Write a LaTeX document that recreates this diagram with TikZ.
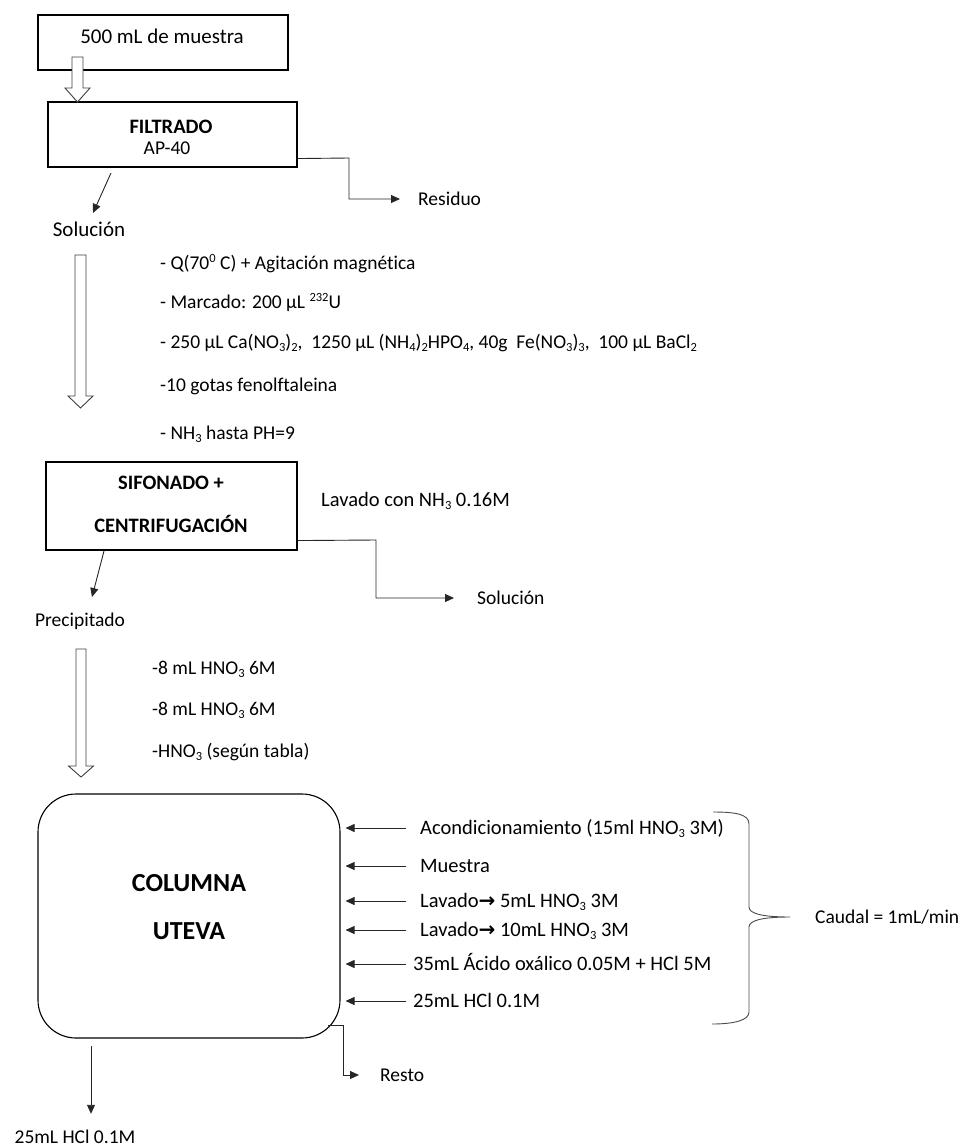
\documentclass[tikz,border=0pt]{standalone}
\usepackage{fontspec}
\setmainfont{Carlito}[Ligatures=NoCommon]
\newfontfamily\djv{DejaVu Sans}
\usetikzlibrary{arrows.meta,calc}
\newcommand\fs{\fontsize{19.5}{23}\selectfont}
\newcommand\fl{\fontsize{21}{25}\selectfont}
\newcommand\fm{\fontsize{20.5}{24}\selectfont}
\newcommand\fb{\fontsize{20.5}{24}\selectfont\bfseries}
\newcommand\fc{\fontsize{26}{30}\selectfont\bfseries}
\newcommand\sub[1]{\raisebox{-3pt}{\fontsize{12.5}{13}\selectfont #1}}
\newcommand\sups[1]{\raisebox{6.5pt}{\fontsize{12.5}{13}\selectfont #1}}
\newcommand\rarr{{\djv\bfseries\fontsize{20}{22}\selectfont →}}
\newcommand\hollow[6]{%
  \draw[hol] (#1-#6,#2) -- (#1+#6,#2) -- (#1+#6,#3-#4) -- (#1+#5,#3-#4) -- (#1,#3) -- (#1-#5,#3-#4) -- (#1-#6,#3-#4) -- cycle;}
\begin{document}
\begin{tikzpicture}[x=1pt,y=-1pt,
  every node/.style={font=\fs, inner sep=0pt, text height=14pt, text depth=2pt},
  box/.style={draw, line width=1.1pt, minimum width=#1},
  hol/.style={draw=black!75, line width=0.9pt, fill=white},
  arr/.style={draw=black!85, line width=0.9pt, -{Triangle[length=9pt,width=8pt]}},
  txt/.style={anchor=west},
  bt/.style={font=\fb},
  ct/.style={font=\fc, text height=18pt, text depth=1pt},
  brace/.style={draw=black!70, line width=0.9pt}
]
\useasboundingbox (0,0) rectangle (973,1146);

% boxes
\node[box=250, minimum height=55] (b1) at (163,42.5) {};
\node[font=\fl] (t1) at (162,37) {500 mL de muestra};

\node[box=249, minimum height=65] (b2) at (172.5,134.5) {};
\node[bt] (t2a) at (171,127) {FILTRADO};
\node (t2b) at (167,148) {AP-40};

\node[box=251, minimum height=88] (b3) at (171.5,506) {};
\node[bt] (t3a) at (171,483) {SIFONADO +};
\node[bt] (t3b) at (171,526) {CENTRIFUGACIÓN};

\node[draw, line width=1.1pt, rounded corners=38, minimum width=302, minimum height=244] (col) at (189,916) {};
\node[ct] (c1) at (189,883) {COLUMNA};
\node[ct] (c2) at (189,931) {UTEVA};

% labels
\node[font=\fl] (sol1) at (89,230) {Solución};
\node[txt] (res) at (418,199) {Residuo};
\node (prec) at (80,620) {Precipitado};
\node[txt, font=\fm] (lav) at (321,500) {Lavado con NH\sub{3} 0.16M};
\node[txt] (sol2) at (477,598) {Solución};
\node[txt] (resto) at (380,1075) {Resto};
\node (out) at (75,1137) {25mL HCl 0.1M};
\node[txt] (caud) at (815,917) {Caudal = 1mL/min};

% reagent list
\node[txt] (r1) at (160,263) {- Q(70\sups{0} C) + Agitación magnética};
\node[txt] (r2) at (160,302) {- Marcado: 200 µL \sups{232}U};
\node[txt] (r3) at (160,342) {- 250 µL Ca(NO\sub{3})\sub{2},\ \ 1250 µL (NH\sub{4})\sub{2}HPO\sub{4}, 40g\ \ Fe(NO\sub{3})\sub{3},\ \ 100 µL BaCl\sub{2}};
\node[txt] (r4) at (160,385) {-10 gotas fenolftaleina};
\node[txt] (r5) at (160,433) {- NH\sub{3} hasta PH=9};

\node[txt] (h1) at (152,668) {-8 mL HNO\sub{3} 6M};
\node[txt] (h2) at (152,709) {-8 mL HNO\sub{3} 6M};
\node[txt] (h3) at (152,751) {-HNO\sub{3} (según tabla)};

% column inputs
\begin{scope}[every node/.append style={font=\fm}]
\node[txt] (i1) at (420,828) {Acondicionamiento (15ml HNO\sub{3} 3M)};
\node[txt] (i2) at (420,866) {Muestra};
\node[txt] (i3) at (420,901) {Lavado\rarr\ 5mL HNO\sub{3} 3M};
\node[txt] (i4) at (420,930) {Lavado\rarr\ 10mL HNO\sub{3} 3M};
\node[txt] (i5) at (413,964) {35mL Ácido oxálico 0.05M + HCl 5M};
\node[txt] (i6) at (413,1001) {25mL HCl 0.1M};
\end{scope}

\foreach \n/\y in {i1/828,i2/866,i3/901,i4/930,i5/964,i6/1001}{
  \coordinate (\n t) at (406,\y);
  \draw[arr] (\n t) -- ($(col.east |- \n t)+(5,0)$);
}

% hollow arrows
\hollow{77.5}{57}{102}{14}{12.5}{5.5}
\hollow{80.5}{255}{408}{12}{12.5}{5.5}
\hollow{81}{649}{777}{11}{12.5}{5}

% thin arrows
\coordinate (s1a) at (111,173);
\draw[arr] (s1a) -- (93,213);
\coordinate (s2a) at (104,551);
\draw[arr] (s2a) -- (92,597);
\draw[arr] ($(b2.south east)+(0,-9)$) -- (349,158) -- (349,199) -- ($(res.west)+(-18,0)$);
\draw[arr] ($(b3.south east)+(0,-10)$) -- (376,540) -- (376,598) -- ($(sol2.west)+(-23,0)$);
\coordinate (cr) at (328,1025);
\draw[arr] (cr) -- (343,1025) -- (343,1075) -- ($(resto.west)+(-21,0)$);
\draw[arr] (91,1046) -- ($(out.north)+(16,-15)$);

% brace
\draw[brace] (713,812) .. controls (735,812) and (749,814) .. (749,824) -- (749,907)
  .. controls (749,913) and (760,917) .. (790,917)
  .. controls (760,917) and (749,921) .. (749,927) -- (749,1012)
  .. controls (749,1020) and (735,1024) .. (712,1024);
\end{tikzpicture}
\end{document}
